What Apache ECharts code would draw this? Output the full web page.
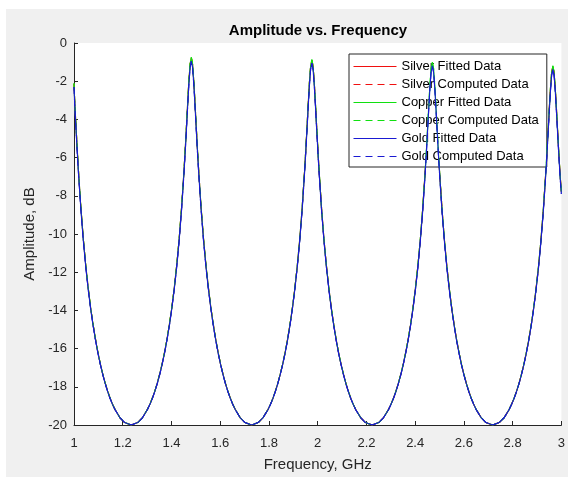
<!DOCTYPE html>
<html>
<head>
<meta charset="utf-8">
<script src="https://cdn.jsdelivr.net/npm/echarts@6/dist/echarts.min.js"></script>
<style>
  html, body { margin: 0; padding: 0; background: #ffffff; }
  #chart { width: 568px; height: 477px; }
</style>
</head>
<body>
<div id="chart"></div>
<script>
// Frequency samples (GHz)
const freqGHz = [
  1.000, 1.003, 1.008, 1.013, 1.018, 1.028, 1.038, 1.048, 1.058, 1.068, 1.078, 1.088, 1.098, 1.108, 1.118, 1.128, 1.138, 1.148, 1.158, 1.168, 1.188, 1.208, 1.2345,
  1.2615, 1.2815, 1.3015, 1.3115, 1.3215, 1.3315, 1.3415, 1.3515, 1.3615, 1.3715, 1.3815, 1.3915, 1.4015, 1.4115, 1.4215, 1.4315, 1.4415, 1.4515, 1.4565, 1.4615, 1.4665, 1.4715, 1.4765, 1.4815,
  1.4865, 1.4915, 1.4965, 1.5015, 1.5065, 1.5115, 1.5215, 1.5315, 1.5415, 1.5515, 1.5615, 1.5715, 1.5815, 1.5915, 1.6015, 1.6115, 1.6215, 1.6315, 1.6415, 1.6515, 1.6615, 1.6815, 1.7015, 1.7288,
  1.756, 1.776, 1.796, 1.806, 1.816, 1.826, 1.836, 1.846, 1.856, 1.866, 1.876, 1.886, 1.896, 1.906, 1.916, 1.926, 1.936, 1.946, 1.951, 1.956, 1.961, 1.966, 1.971, 1.976,
  1.981, 1.986, 1.991, 1.996, 2.001, 2.006, 2.016, 2.026, 2.036, 2.046, 2.056, 2.066, 2.076, 2.086, 2.096, 2.106, 2.116, 2.126, 2.136, 2.146, 2.156, 2.176, 2.196, 2.2233,
  2.2505, 2.2705, 2.2905, 2.3005, 2.3105, 2.3205, 2.3305, 2.3405, 2.3505, 2.3605, 2.3705, 2.3805, 2.3905, 2.4005, 2.4105, 2.4205, 2.4305, 2.4405, 2.4455, 2.4505, 2.4555, 2.4605, 2.4655, 2.4705,
  2.4755, 2.4805, 2.4855, 2.4905, 2.4955, 2.5005, 2.5105, 2.5205, 2.5305, 2.5405, 2.5505, 2.5605, 2.5705, 2.5805, 2.5905, 2.6005, 2.6105, 2.6205, 2.6305, 2.6405, 2.6505, 2.6705, 2.6905, 2.7178,
  2.745, 2.765, 2.785, 2.795, 2.805, 2.815, 2.825, 2.835, 2.845, 2.855, 2.865, 2.875, 2.885, 2.895, 2.905, 2.915, 2.925, 2.935, 2.940, 2.945, 2.950, 2.955, 2.960, 2.965,
  2.970, 2.975, 2.980, 2.985, 2.990, 2.995, 3.000
];

// Amplitude (dB)
const goldDb = [
  -2.30, -3.24, -4.46, -5.64, -6.75, -8.69, -10.32, -11.70, -12.87, -13.89, -14.77, -15.54, -16.23, -16.83, -17.36, -17.83, -18.24, -18.61, -18.92, -19.19, -19.61, -19.87, -20.00,
  -19.87, -19.61, -19.19, -18.92, -18.61, -18.25, -17.84, -17.37, -16.84, -16.24, -15.56, -14.78, -13.90, -12.89, -11.72, -10.35, -8.72, -6.78, -5.68, -4.50, -3.29, -2.15, -1.28, -0.95,
  -1.28, -2.15, -3.29, -4.50, -5.68, -6.78, -8.72, -10.35, -11.72, -12.89, -13.90, -14.78, -15.56, -16.24, -16.84, -17.37, -17.84, -18.25, -18.61, -18.92, -19.19, -19.61, -19.87, -20.00,
  -19.87, -19.61, -19.20, -18.93, -18.62, -18.26, -17.85, -17.38, -16.85, -16.26, -15.58, -14.81, -13.94, -12.93, -11.76, -10.40, -8.78, -6.85, -5.75, -4.58, -3.37, -2.24, -1.38, -1.05,
  -1.38, -2.24, -3.37, -4.58, -5.75, -6.85, -8.78, -10.40, -11.76, -12.93, -13.94, -14.81, -15.58, -16.26, -16.85, -17.38, -17.85, -18.26, -18.62, -18.93, -19.20, -19.61, -19.87, -20.00,
  -19.87, -19.61, -19.20, -18.93, -18.63, -18.27, -17.86, -17.40, -16.88, -16.28, -15.62, -14.85, -13.98, -12.98, -11.83, -10.47, -8.87, -6.95, -5.87, -4.70, -3.51, -2.38, -1.53, -1.20,
  -1.53, -2.38, -3.51, -4.70, -5.87, -6.95, -8.87, -10.47, -11.83, -12.98, -13.98, -14.85, -15.62, -16.28, -16.88, -17.40, -17.86, -18.27, -18.63, -18.93, -19.20, -19.61, -19.87, -20.00,
  -19.87, -19.62, -19.21, -18.94, -18.64, -18.29, -17.89, -17.43, -16.91, -16.32, -15.66, -14.90, -14.04, -13.05, -11.91, -10.56, -8.98, -7.08, -6.00, -4.85, -3.66, -2.55, -1.70, -1.38,
  -1.70, -2.55, -3.66, -4.85, -6.00, -7.08, -7.90
];

const copperDb = [
  -2.11, -3.06, -4.30, -5.49, -6.61, -8.57, -10.22, -11.61, -12.79, -13.83, -14.71, -15.49, -16.19, -16.80, -17.33, -17.81, -18.22, -18.59, -18.91, -19.18, -19.61, -19.87, -20.00,
  -19.87, -19.61, -19.18, -18.91, -18.59, -18.23, -17.82, -17.34, -16.81, -16.20, -15.51, -14.72, -13.84, -12.81, -11.63, -10.25, -8.60, -6.64, -5.53, -4.34, -3.11, -1.96, -1.08, -0.75,
  -1.08, -1.96, -3.11, -4.34, -5.53, -6.64, -8.60, -10.25, -11.63, -12.81, -13.84, -14.72, -15.51, -16.20, -16.81, -17.34, -17.82, -18.23, -18.59, -18.91, -19.18, -19.61, -19.87, -20.00,
  -19.87, -19.61, -19.19, -18.92, -18.61, -18.24, -17.83, -17.35, -16.82, -16.22, -15.54, -14.76, -13.88, -12.86, -11.68, -10.31, -8.67, -6.72, -5.61, -4.43, -3.21, -2.07, -1.20, -0.87,
  -1.20, -2.07, -3.21, -4.43, -5.61, -6.72, -8.67, -10.31, -11.68, -12.86, -13.88, -14.76, -15.54, -16.22, -16.82, -17.35, -17.83, -18.24, -18.61, -18.92, -19.19, -19.61, -19.87, -20.00,
  -19.87, -19.61, -19.19, -18.92, -18.61, -18.25, -17.84, -17.37, -16.85, -16.24, -15.57, -14.79, -13.92, -12.90, -11.74, -10.37, -8.75, -6.81, -5.72, -4.54, -3.33, -2.19, -1.33, -1.00,
  -1.33, -2.19, -3.33, -4.54, -5.72, -6.81, -8.75, -10.37, -11.74, -12.90, -13.92, -14.79, -15.57, -16.24, -16.85, -17.37, -17.84, -18.25, -18.61, -18.92, -19.19, -19.61, -19.87, -20.00,
  -19.87, -19.62, -19.20, -18.93, -18.63, -18.27, -17.87, -17.40, -16.88, -16.28, -15.62, -14.85, -13.98, -12.98, -11.83, -10.47, -8.87, -6.95, -5.86, -4.70, -3.50, -2.38, -1.52, -1.20,
  -1.52, -2.38, -3.50, -4.70, -5.86, -6.95, -7.78
];

const silverDb = [
  -2.14, -3.06, -4.30, -5.49, -6.61, -8.57, -10.22, -11.61, -12.79, -13.83, -14.71, -15.49, -16.19, -16.80, -17.33, -17.81, -18.22, -18.59, -18.91, -19.18, -19.61, -19.87, -20.00,
  -19.87, -19.61, -19.18, -18.91, -18.59, -18.23, -17.82, -17.34, -16.81, -16.20, -15.51, -14.72, -13.84, -12.81, -11.63, -10.25, -8.60, -6.64, -5.53, -4.34, -3.11, -1.96, -1.10, -0.78,
  -1.10, -1.96, -3.11, -4.34, -5.53, -6.64, -8.60, -10.25, -11.63, -12.81, -13.84, -14.72, -15.51, -16.20, -16.81, -17.34, -17.82, -18.23, -18.59, -18.91, -19.18, -19.61, -19.87, -20.00,
  -19.87, -19.61, -19.19, -18.92, -18.61, -18.24, -17.83, -17.35, -16.82, -16.22, -15.54, -14.76, -13.88, -12.86, -11.68, -10.31, -8.67, -6.72, -5.61, -4.43, -3.21, -2.07, -1.22, -0.90,
  -1.22, -2.07, -3.21, -4.43, -5.61, -6.72, -8.67, -10.31, -11.68, -12.86, -13.88, -14.76, -15.54, -16.22, -16.82, -17.35, -17.83, -18.24, -18.61, -18.92, -19.19, -19.61, -19.87, -20.00,
  -19.87, -19.61, -19.19, -18.92, -18.61, -18.25, -17.84, -17.37, -16.85, -16.24, -15.57, -14.79, -13.92, -12.90, -11.74, -10.37, -8.75, -6.81, -5.72, -4.54, -3.33, -2.19, -1.35, -1.03,
  -1.35, -2.19, -3.33, -4.54, -5.72, -6.81, -8.75, -10.37, -11.74, -12.90, -13.92, -14.79, -15.57, -16.24, -16.85, -17.37, -17.84, -18.25, -18.61, -18.92, -19.19, -19.61, -19.87, -20.00,
  -19.87, -19.62, -19.20, -18.93, -18.63, -18.27, -17.87, -17.40, -16.88, -16.28, -15.62, -14.85, -13.98, -12.98, -11.83, -10.47, -8.87, -6.95, -5.86, -4.70, -3.50, -2.38, -1.54, -1.23,
  -1.54, -2.38, -3.50, -4.70, -5.86, -6.95, -7.78
];

const metalNames = ['Silver', 'Copper', 'Gold'];
const metalValues = [silverDb, copperDb, goldDb];
const metalColors = ['#f01010', '#10e010', '#1a1ad2'];

const FONT = '"Liberation Sans", Arial, Helvetica, sans-serif';
const INK = '#262626';

const series = [];
metalNames.forEach((m, k) => {
  const data = freqGHz.map((f, i) => [f, metalValues[k][i]]);
  series.push({
    name: m + ' Fitted Data', type: 'line', data: data, symbol: 'none',
    color: metalColors[k],
    lineStyle: { color: metalColors[k], width: 1.1, type: 'solid' },
    itemStyle: { color: metalColors[k] }, z: 2 + k * 2
  });
  series.push({
    name: m + ' Computed Data', type: 'line', data: data, symbol: 'none',
    color: metalColors[k],
    lineStyle: { color: metalColors[k], width: 1.1, type: [7, 5] },
    itemStyle: { color: metalColors[k] }, z: 3 + k * 2
  });
});

const chart = echarts.init(document.getElementById('chart'), null, { renderer: 'canvas' });
chart.setOption({
  animation: false,
  backgroundColor: '#f0f0f0',
  textStyle: { fontFamily: FONT, color: INK },
  graphic: [
    { type: 'rect', silent: true, z: -10, shape: { x: 0, y: 0, width: 568, height: 9 }, style: { fill: '#ffffff' } },
    { type: 'rect', silent: true, z: -10, shape: { x: 0, y: 0, width: 6, height: 477 }, style: { fill: '#ffffff' } },
    { type: 'text', silent: true, x: 318, y: 31,
      style: { text: 'Amplitude vs. Frequency', font: 'bold 15px ' + FONT, fill: '#000000',
               textAlign: 'center', textVerticalAlign: 'middle' } }
  ],
  grid: {
    left: 74, right: 6, top: 43, bottom: 49,
    show: true, backgroundColor: '#ffffff', borderWidth: 0, containLabel: false
  },
  legend: {
    orient: 'vertical', left: 349, top: 54,
    data: series.map(s => s.name),
    itemWidth: 43, itemHeight: 14, itemGap: 5,
    padding: [6, 8, 4, 4],
    itemStyle: { opacity: 0 },
    lineStyle: { width: 1 },
    backgroundColor: '#ffffff', borderColor: INK, borderWidth: 1, borderRadius: 0,
    textStyle: { fontFamily: FONT, fontSize: 13, color: '#000000' },
    selectedMode: false
  },
  xAxis: {
    type: 'value', min: 1, max: 3, interval: 0.2,
    name: 'Frequency, GHz', nameLocation: 'middle', nameGap: 32,
    nameTextStyle: { fontFamily: FONT, fontSize: 15, color: INK },
    axisLine: { show: true, onZero: false, lineStyle: { color: INK, width: 1 } },
    axisTick: { show: true, inside: true, length: 4, lineStyle: { color: INK } },
    axisLabel: { fontFamily: FONT, fontSize: 13, color: INK, margin: 12 },
    splitLine: { show: false }
  },
  yAxis: {
    type: 'value', min: -20, max: 0, interval: 2,
    name: 'Amplitude, dB', nameLocation: 'middle', nameGap: 35,
    nameTextStyle: { fontFamily: FONT, fontSize: 15, color: INK },
    axisLine: { show: true, onZero: false, lineStyle: { color: INK, width: 1 } },
    axisTick: { show: true, inside: true, length: 4, lineStyle: { color: INK } },
    axisLabel: { fontFamily: FONT, fontSize: 13, color: INK, margin: 7 },
    splitLine: { show: false }
  },
  series: series
});
</script>
</body>
</html>
